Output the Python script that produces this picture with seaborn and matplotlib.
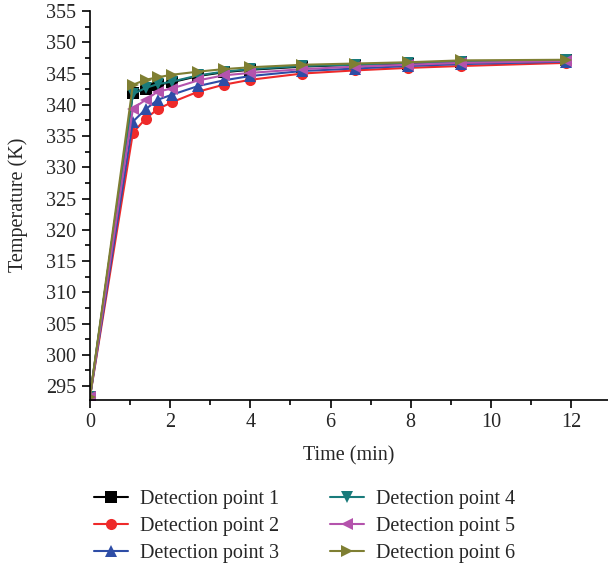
import numpy as np
import pandas as pd
import matplotlib
matplotlib.use("Agg")
import matplotlib.pyplot as plt
import seaborn as sns
from matplotlib.ticker import MultipleLocator

time_min = [0, 1.07, 1.39, 1.69, 2.04, 2.7, 3.33, 4.0, 5.3, 6.62, 7.93, 9.25, 11.88]
series_names = ["Detection point 1", "Detection point 2", "Detection point 3",
                "Detection point 4", "Detection point 5", "Detection point 6"]
p1 = [293.3, 341.9, 342.6, 343.2, 343.6, 344.6, 345.2, 345.6, 346.1, 346.4, 346.6, 346.9, 347.1]
p2 = [293.3, 335.5, 337.8, 339.3, 340.4, 342.1, 343.2, 344.0, 345.0, 345.5, 345.9, 346.2, 346.7]
p3 = [293.3, 337.3, 339.3, 340.8, 341.6, 343.0, 343.9, 344.6, 345.4, 345.8, 346.2, 346.5, 346.9]
p4 = [293.3, 341.7, 342.7, 343.3, 343.7, 344.7, 345.3, 345.7, 346.2, 346.4, 346.7, 346.9, 347.1]
p5 = [293.3, 339.4, 340.8, 342.1, 342.6, 343.9, 344.7, 345.1, 345.7, 346.1, 346.4, 346.7, 347.0]
p6 = [293.3, 343.2, 344.0, 344.4, 344.8, 345.3, 345.7, 346.0, 346.4, 346.6, 346.8, 347.1, 347.2]
all_values = [p1, p2, p3, p4, p5, p6]

colors = ["#000000", "#EE2A2A", "#2E4DA6", "#197B7B", "#B453AC", "#7F7F33"]
markers = ["s", "o", "^", "v", "<", ">"]

rows = []
for name, vals in zip(series_names, all_values):
    for t, v in zip(time_min, vals):
        rows.append({"Time (min)": t, "Temperature (K)": v, "series": name})
df = pd.DataFrame(rows)

sns.set_theme(style="ticks")
plt.rcParams["font.family"] = ["Liberation Serif", "DejaVu Serif"]

FS = 14.5
fig = plt.figure(figsize=(6.08, 5.69), dpi=100)
ax = fig.add_axes([90/608, 1 - 399.5/569, 1 - 90/608, (399.5 - 11)/569])

sns.lineplot(data=df, x="Time (min)", y="Temperature (K)", hue="series", style="series",
             palette=dict(zip(series_names, colors)),
             markers=dict(zip(series_names, markers)), dashes=False,
             markersize=8, markeredgewidth=0, linewidth=1.5, ax=ax, legend=True)

ax.set_xlim(0, 12.92)
ax.set_ylim(292.85, 355)
ax.xaxis.set_major_locator(MultipleLocator(2))
ax.xaxis.set_minor_locator(MultipleLocator(1))
ax.yaxis.set_major_locator(MultipleLocator(5))
ax.yaxis.set_minor_locator(MultipleLocator(2.5))
ax.tick_params(which="major", direction="out", length=6, width=1.2, labelsize=FS, color="black", pad=4)
ax.tick_params(which="minor", direction="out", length=3.5, width=1.2, color="black")
for s in ["top", "right"]:
    ax.spines[s].set_visible(False)
for s in ["left", "bottom"]:
    ax.spines[s].set_linewidth(1.2)
    ax.spines[s].set_color("black")
ax.set_xlabel("Time (min)", fontsize=FS, labelpad=10)
ax.set_ylabel("Temperature (K)", fontsize=FS, labelpad=13)

handles, labels = ax.get_legend_handles_labels()
ax.get_legend().remove()
fig.legend(handles, labels, ncol=2, frameon=False, loc="upper left",
           bbox_to_anchor=(76/608, 1 - 472/569), fontsize=FS,
           handlelength=1.7, labelspacing=0.38, columnspacing=2.5, handletextpad=0.6)

fig.savefig("out.png", dpi=100)
